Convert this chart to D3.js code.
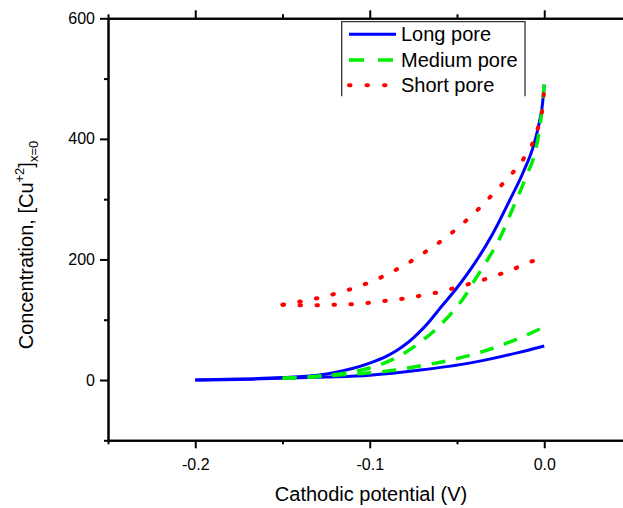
<!DOCTYPE html>
<html>
<head>
<meta charset="utf-8">
<script src="https://cdn.jsdelivr.net/npm/d3@7"></script>
<style>
  body { margin: 0; background: #fff; }
  svg { display: block; font-family: "Liberation Sans", Arial, sans-serif; }
</style>
</head>
<body>
<div id="chart"></div>
<script>
// Series data: potential (V) and concentration, one pair of arrays per branch
const longUpperV = [-0.2, -0.175, -0.15, -0.13, -0.12, -0.11, -0.1, -0.09, -0.085, -0.08, -0.075, -0.07, -0.065, -0.06, -0.05, -0.04, -0.03, -0.02, -0.012, -0.006, -0.003, -0.001, 0];
const longUpperC = [0, 1.5, 4, 8, 12.5, 19, 28, 40, 48, 58, 70, 84, 100, 118, 153, 193, 240, 297, 345, 390, 425, 458, 490];
const longLowerV = [-0.2, -0.175, -0.15, -0.125, -0.1, -0.071, -0.043, -0.03, -0.015, 0];
const longLowerC = [0, 1, 3, 5, 8, 16.5, 28, 35.5, 45.5, 56.5];

const mediumUpperV = [-0.15, -0.13, -0.115, -0.1, -0.09, -0.08, -0.07, -0.06, -0.052, -0.046, -0.04, -0.033, -0.025, -0.018, -0.01, -0.005, -0.002, 0];
const mediumUpperC = [3, 6, 11, 20, 30, 45, 65, 90, 115, 137, 165, 197, 238, 285, 340, 381, 431, 490];
const mediumLowerV = [-0.15, -0.14, -0.125, -0.104, -0.085, -0.07, -0.052, -0.035, -0.018, 0];
const mediumLowerC = [3, 4.5, 7, 11, 16.5, 24, 34, 47.5, 65, 88];

const shortUpperV = [-0.15, -0.138, -0.128, -0.1176, -0.1075, -0.0976, -0.0876, -0.0775, -0.0674, -0.0575, -0.0473, -0.0372, -0.0273, -0.0186, -0.011, -0.0057, -0.0025, -0.0006, 0];
const shortUpperC = [125, 131, 137, 145, 154, 165, 179, 195, 214, 234, 258, 285, 315, 342, 371, 400, 431, 460, 489];
const shortLowerV = [-0.15, -0.139, -0.1285, -0.119, -0.109, -0.099, -0.089, -0.079, -0.069, -0.0586, -0.0487, -0.0385, -0.028, -0.0183, -0.009, -0.003];
const shortLowerC = [125, 124, 124, 125, 126, 128.5, 132, 135.5, 141, 147, 155, 163, 173, 183, 195.5, 199];

const seriesNames = ["Long pore", "Medium pore", "Short pore"];
const xMajorTicks = [-0.2, -0.1, 0.0];
const xMinorTicks = [-0.25, -0.15, -0.05];
const yMajorTicks = [0, 200, 400, 600];
const yMinorTicks = [-100, 100, 300, 500];

const W = 623, H = 508;
const plotLeft = 108, plotTop = 18.3, plotBottom = 440.3;
// the right frame falls outside the picture
const plotRight = plotLeft + 0.30 * 1745;

const svg = d3.select("#chart").append("svg")
    .attr("width", W)
    .attr("height", H);

const x = d3.scaleLinear().domain([-0.25, 0.05]).range([plotLeft, plotRight]);
const y = d3.scaleLinear().domain([-100, 600]).range([plotBottom, plotTop]);

// styles for each series
const styles = [
    { color: "#0000ff", width: 3, dash: null, cap: "butt" },
    { color: "#00ee00", width: 3.5, dash: "14,11", cap: "butt" },
    { color: "#ff0000", width: 4, dash: "1.5,15.5", cap: "round" }
];

const branches = [
    [longUpperV, longUpperC, 0], [longLowerV, longLowerC, 0],
    [mediumUpperV, mediumUpperC, 1], [mediumLowerV, mediumLowerC, 1],
    [shortUpperV, shortUpperC, 2], [shortLowerV, shortLowerC, 2]
];

const line = d3.line()
    .x(d => x(d[0]))
    .y(d => y(d[1]))
    .curve(d3.curveMonotoneX);

branches.forEach(([vs, cs, k]) => {
    const pts = vs.map((v, i) => [v, cs[i]]);
    const s = styles[k];
    svg.append("path")
        .datum(pts)
        .attr("d", line)
        .attr("fill", "none")
        .attr("stroke", s.color)
        .attr("stroke-width", s.width)
        .attr("stroke-dasharray", s.dash)
        .attr("stroke-linecap", s.cap)
        .attr("stroke-linejoin", "round");
});

// axes
function styleAxis(g) {
    g.selectAll("path, line").attr("stroke", "#000").attr("stroke-width", 2);
    g.selectAll("text").attr("fill", "#000").style("font-size", "16px")
        .style("font-family", '"Liberation Sans", Arial, sans-serif');
}

svg.append("g")
    .attr("transform", `translate(0,${plotBottom})`)
    .call(d3.axisBottom(x).tickValues(xMajorTicks).tickSize(8).tickSizeOuter(0).tickPadding(10)
        .tickFormat(d => d.toFixed(1)))
    .call(styleAxis);
svg.append("g")
    .attr("transform", `translate(0,${plotBottom})`)
    .call(d3.axisBottom(x).tickValues(xMinorTicks).tickSize(4).tickSizeOuter(0).tickFormat(""))
    .call(styleAxis);

svg.append("g")
    .attr("transform", `translate(0,${plotTop})`)
    .call(d3.axisTop(x).tickValues(xMajorTicks).tickSize(8).tickSizeOuter(0).tickFormat(""))
    .call(styleAxis);
svg.append("g")
    .attr("transform", `translate(0,${plotTop})`)
    .call(d3.axisTop(x).tickValues(xMinorTicks).tickSize(4).tickSizeOuter(0).tickFormat(""))
    .call(styleAxis);

svg.append("g")
    .attr("transform", `translate(${plotLeft},0)`)
    .call(d3.axisLeft(y).tickValues(yMajorTicks).tickSize(8).tickSizeOuter(0).tickPadding(5))
    .call(styleAxis);
svg.append("g")
    .attr("transform", `translate(${plotLeft},0)`)
    .call(d3.axisLeft(y).tickValues(yMinorTicks).tickSize(4).tickSizeOuter(0).tickFormat(""))
    .call(styleAxis);

// axis titles
svg.append("text")
    .attr("x", 371)
    .attr("y", 501)
    .attr("text-anchor", "middle")
    .style("font-size", "20px")
    .text("Cathodic potential (V)");

const yTitle = svg.append("text")
    .attr("transform", "translate(33,245) rotate(-90)")
    .attr("text-anchor", "middle")
    .style("font-size", "20px");
yTitle.append("tspan").text("Concentration, [Cu");
yTitle.append("tspan").attr("dy", -9).style("font-size", "13px").text("+2");
yTitle.append("tspan").attr("dy", 9).text("]");
yTitle.append("tspan").attr("dy", 5).style("font-size", "13px").text("x=0");

// legend (box has no bottom edge)
const lg = svg.append("g");
lg.append("rect")
    .attr("x", 341.7).attr("y", 21.7)
    .attr("width", 183.3).attr("height", 74.5)
    .attr("fill", "#fff");
lg.append("path")
    .attr("d", "M341.7,96.2V21.7H525V96.2")
    .attr("fill", "none")
    .attr("stroke", "#333")
    .attr("stroke-width", 1.3);

const rowY = [34.3, 60, 85.3];
seriesNames.forEach((name, i) => {
    const s = styles[i];
    lg.append("line")
        .attr("x1", 349).attr("x2", 396)
        .attr("y1", rowY[i]).attr("y2", rowY[i])
        .attr("stroke", s.color)
        .attr("stroke-width", s.width)
        .attr("stroke-dasharray", i === 1 ? "15,14" : i === 2 ? "1.5,16" : null)
        .attr("stroke-linecap", s.cap);
    lg.append("text")
        .attr("x", 401)
        .attr("y", rowY[i])
        .attr("dy", "0.35em")
        .style("font-size", "20px")
        .text(name);
});
</script>
</body>
</html>
